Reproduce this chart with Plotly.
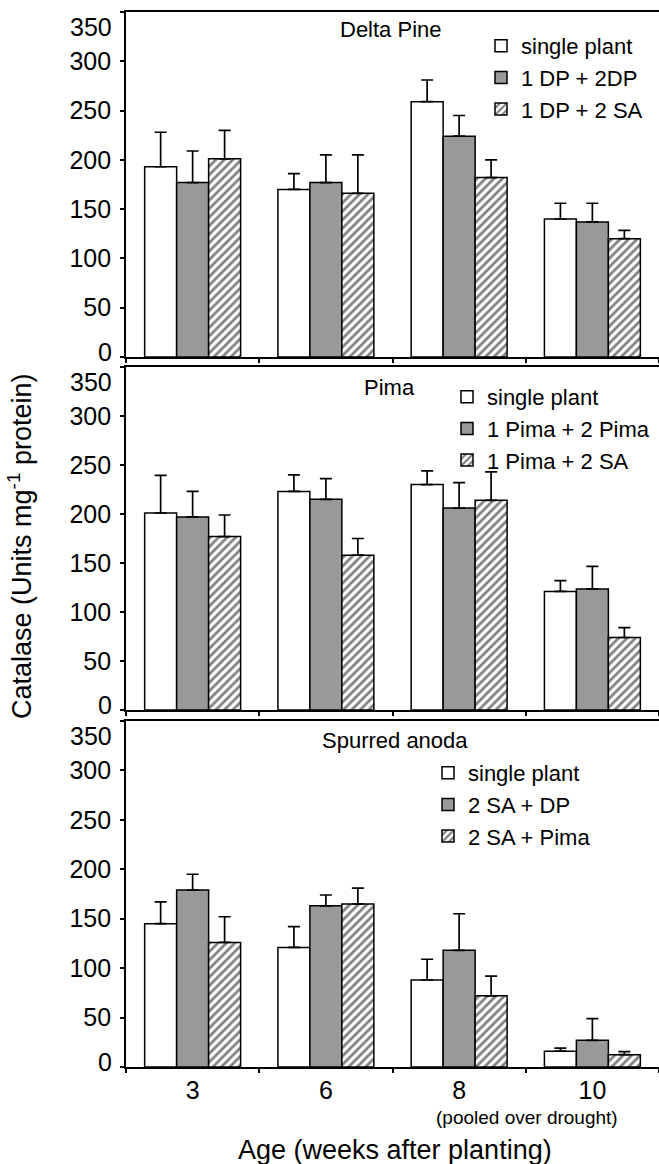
import plotly.graph_objects as go

weeks = ["3", "6", "8", "10"]
yticks = [0, 50, 100, 150, 200, 250, 300, 350]

# Delta Pine panel
dp_single = [193, 170, 259, 140]
dp_single_err = [35, 16, 22, 16]
dp_dp = [177, 177, 224, 137]
dp_dp_err = [32, 28, 21, 19]
dp_sa = [201, 166, 182, 120]
dp_sa_err = [29, 39, 18, 8.5]

# Pima panel
pi_single = [201, 223, 230, 121]
pi_single_err = [38.5, 17, 14, 11]
pi_pi = [197, 215, 206, 123.5]
pi_pi_err = [26, 21, 26, 23]
pi_sa = [177, 158, 214, 74]
pi_sa_err = [22, 17, 29, 10]

# Spurred anoda panel
sa_single = [145, 121, 88, 16]
sa_single_err = [22, 21, 21, 3]
sa_dp = [179, 163, 118, 27]
sa_dp_err = [16, 11, 37, 22]
sa_pi = [126, 165, 72, 12.5]
sa_pi_err = [26, 16, 20, 3]

panels = [
    ("Delta Pine", ["single plant", "1 DP + 2DP", "1 DP + 2 SA"],
     [(dp_single, dp_single_err), (dp_dp, dp_dp_err), (dp_sa, dp_sa_err)]),
    ("Pima", ["single plant", "1 Pima + 2 Pima", "1 Pima + 2 SA"],
     [(pi_single, pi_single_err), (pi_pi, pi_pi_err), (pi_sa, pi_sa_err)]),
    ("Spurred anoda", ["single plant", "2 SA + DP", "2 SA + Pima"],
     [(sa_single, sa_single_err), (sa_dp, sa_dp_err), (sa_pi, sa_pi_err)]),
]

FONT = "Liberation Sans, Arial, sans-serif"
W, H = 659, 1164
ML, MR, MT, MB = 126, 0, 12, 97
PH = H - MT - MB
TICKSIZE = 25


def py(pix):
    return (H - MB - pix) / PH


def px(pix):
    return (pix - ML) / (W - ML - MR)


domains = [[py(357), 1.0], [py(710), py(367)], [0.0, py(721)]]
legend_pos = [(481, 25), (447, 376), (428, 752)]
title_pos = [(391, 30), (389, 387), (395, 740)]

styles = [
    dict(color="white", pattern=None),
    dict(color="#999999", pattern=None),
    dict(color="white", pattern=dict(shape="/", fgcolor="black", bgcolor="white", size=6, solidity=0.45)),
]

fig = go.Figure()
annotations = []
layout = {}
for i, (title, names, series) in enumerate(panels):
    sfx = "" if i == 0 else str(i + 1)
    leg = "legend" if i == 0 else f"legend{i + 1}"
    for j, ((vals, errs), name) in enumerate(zip(series, names)):
        st = styles[j]
        marker = dict(color=st["color"], line=dict(color="black", width=1.5))
        if st["pattern"]:
            marker["pattern"] = st["pattern"]
        fig.add_trace(go.Bar(
            x=weeks, y=vals, name=name, marker=marker,
            error_y=dict(type="data", array=errs, arrayminus=[0] * len(errs),
                         symmetric=False, color="black", thickness=1.7, width=6),
            xaxis="x" + sfx, yaxis="y" + sfx, legend=leg, legendgroup=f"{i}-{j}",
        ))
    layout["xaxis" + sfx] = dict(
        domain=[0, 1], anchor="y" + sfx, type="category", range=[-0.5, 3.5],
        showline=True, linecolor="black", linewidth=1.8, mirror=True,
        ticks="outside", tickson="boundaries", ticklen=4, tickwidth=1.5, tickcolor="black",
        showticklabels=(i == 2), tickfont=dict(family=FONT, size=TICKSIZE, color="black"),
        showgrid=False, zeroline=False,
    )
    # end labels (0 and 350) are drawn as annotations slightly nudged, as in the reference
    layout["yaxis" + sfx] = dict(
        domain=domains[i], anchor="x" + sfx, range=[0, 350],
        tickmode="array", tickvals=yticks,
        ticktext=["" if v in (0, 350) else str(v) for v in yticks],
        showline=True, linecolor="black", linewidth=1.8,
        ticks="outside", ticklen=4, tickwidth=1.5, tickcolor="black",
        tickfont=dict(family=FONT, size=TICKSIZE, color="black"), ticklabelstandoff=4,
        showgrid=False, zeroline=False,
    )
    for v, shift in ((0, 5), (350, -15)):
        annotations.append(dict(text=str(v), x=0, y=v, xref="paper", yref="y" + sfx,
                                xanchor="right", yanchor="middle", xshift=-12, yshift=shift,
                                showarrow=False,
                                font=dict(family=FONT, size=TICKSIZE, color="black")))
    lx, ly = legend_pos[i]
    layout[leg] = dict(
        x=px(lx), y=py(ly), xref="paper", yref="paper", xanchor="left", yanchor="top",
        bgcolor="rgba(0,0,0,0)", font=dict(family=FONT, size=22, color="black"),
        tracegroupgap=0, itemwidth=30,
    )
    tx, ty = title_pos[i]
    annotations.append(dict(text=title, x=px(tx), y=py(ty), xref="paper", yref="paper",
                            xanchor="center", yanchor="middle", showarrow=False,
                            font=dict(family=FONT, size=22, color="black")))

annotations.append(dict(text="(pooled over drought)", x=px(527), y=py(1117), xref="paper", yref="paper",
                        xanchor="center", yanchor="middle", showarrow=False,
                        font=dict(family=FONT, size=19, color="black")))
annotations.append(dict(text="Age (weeks after planting)", x=px(395), y=py(1150), xref="paper", yref="paper",
                        xanchor="center", yanchor="middle", showarrow=False,
                        font=dict(family=FONT, size=27, color="black")))
annotations.append(dict(text="Catalase (Units mg<sup>-1</sup> protein)", x=px(20), y=py(547),
                        xref="paper", yref="paper", xanchor="center", yanchor="middle",
                        textangle=-90, showarrow=False,
                        font=dict(family=FONT, size=27, color="black")))

fig.update_layout(
    width=W, height=H, margin=dict(l=ML, r=MR, t=MT, b=MB),
    paper_bgcolor="white", plot_bgcolor="white",
    barmode="group", bargap=0.28, bargroupgap=0,
    showlegend=True, annotations=annotations,
    **layout,
)

fig.write_html("out.html")
